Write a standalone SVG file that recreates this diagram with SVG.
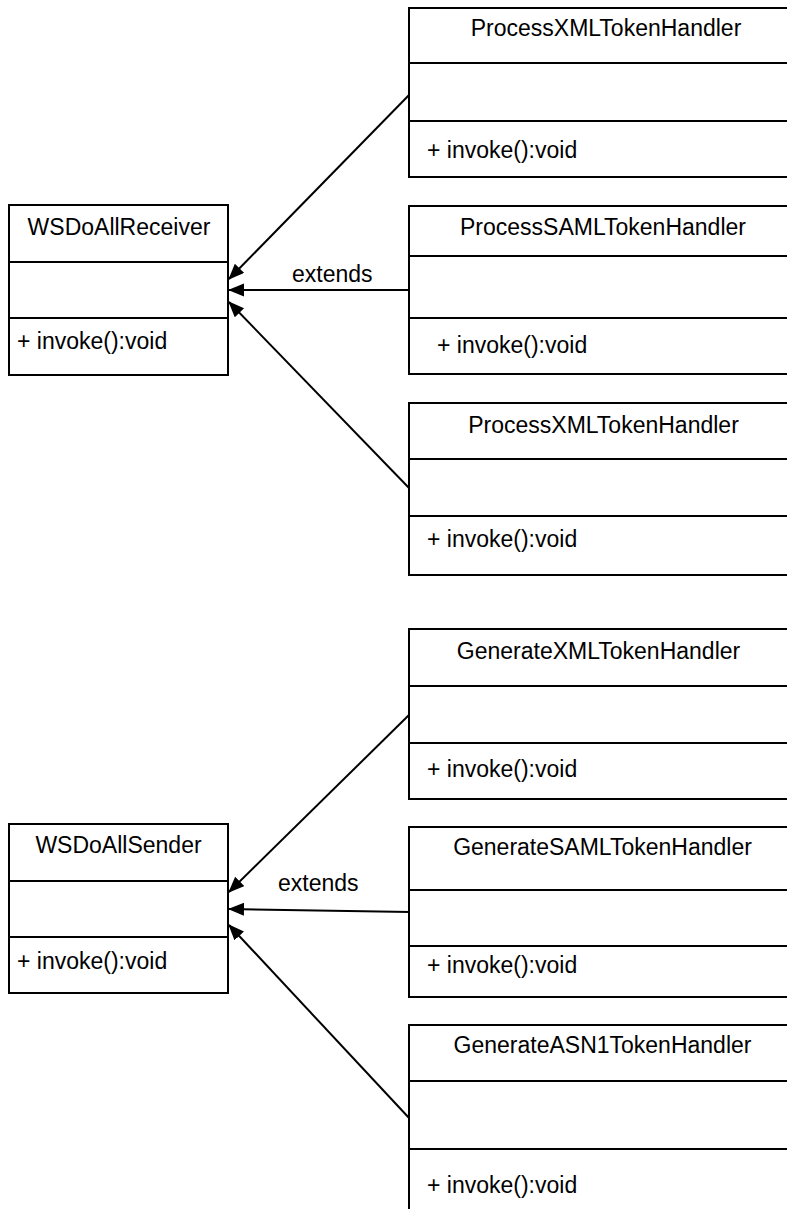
<svg xmlns="http://www.w3.org/2000/svg" width="787" height="1209" viewBox="0 0 787 1209">
<style>
.box{fill:#fff;stroke:#000;stroke-width:2}
.div{stroke:#000;stroke-width:2}
.t{font-family:"Liberation Sans",Arial,sans-serif;font-size:23px;fill:#000}
.c{text-anchor:middle}
.edge{stroke:#000;stroke-width:2;fill:none;marker-end:url(#arrow)}
</style>
<defs>
<marker id="arrow" markerUnits="userSpaceOnUse" markerWidth="18" markerHeight="14" refX="15" refY="6.5" orient="auto">
<path d="M0,0 L16,6.5 L0,13 z" fill="#000"/>
</marker>
</defs>
<g id="connectors">
<line class="edge" x1="410" y1="94" x2="229" y2="279"/>
<line class="edge" x1="410" y1="290" x2="229" y2="290"/>
<line class="edge" x1="410" y1="489" x2="229" y2="302"/>
<line class="edge" x1="410" y1="714" x2="229" y2="892"/>
<line class="edge" x1="410" y1="912" x2="229" y2="909"/>
<line class="edge" x1="410" y1="1119" x2="229" y2="925"/>
<text class="t" x="292" y="282">extends</text>
<text class="t" x="278" y="891">extends</text>
</g>
<g id="WSDoAllReceiver">
<rect class="box" x="9" y="205" width="219" height="170"/>
<line class="div" x1="9" y1="262" x2="228" y2="262"/>
<line class="div" x1="9" y1="318" x2="228" y2="318"/>
<text class="t c" x="119" y="235">WSDoAllReceiver</text>
<text class="t" x="17" y="349">+ invoke():void</text>
</g>
<g id="ProcessXMLTokenHandler1">
<rect class="box" x="409" y="8" width="420" height="169"/>
<line class="div" x1="409" y1="63" x2="829" y2="63"/>
<line class="div" x1="409" y1="121" x2="829" y2="121"/>
<text class="t c" x="606" y="36">ProcessXMLTokenHandler</text>
<text class="t" x="427" y="158">+ invoke():void</text>
</g>
<g id="ProcessSAMLTokenHandler">
<rect class="box" x="409" y="206" width="420" height="168"/>
<line class="div" x1="409" y1="256" x2="829" y2="256"/>
<line class="div" x1="409" y1="318" x2="829" y2="318"/>
<text class="t c" x="603" y="235">ProcessSAMLTokenHandler</text>
<text class="t" x="437" y="353">+ invoke():void</text>
</g>
<g id="ProcessXMLTokenHandler2">
<rect class="box" x="409" y="403" width="420" height="172"/>
<line class="div" x1="409" y1="459" x2="829" y2="459"/>
<line class="div" x1="409" y1="516" x2="829" y2="516"/>
<text class="t c" x="603.5" y="433">ProcessXMLTokenHandler</text>
<text class="t" x="427" y="547">+ invoke():void</text>
</g>
<g id="WSDoAllSender">
<rect class="box" x="9" y="824" width="219" height="169"/>
<line class="div" x1="9" y1="881" x2="228" y2="881"/>
<line class="div" x1="9" y1="937" x2="228" y2="937"/>
<text class="t c" x="118.5" y="853">WSDoAllSender</text>
<text class="t" x="17" y="969">+ invoke():void</text>
</g>
<g id="GenerateXMLTokenHandler">
<rect class="box" x="409" y="629" width="420" height="170"/>
<line class="div" x1="409" y1="686" x2="829" y2="686"/>
<line class="div" x1="409" y1="743" x2="829" y2="743"/>
<text class="t c" x="598.5" y="659">GenerateXMLTokenHandler</text>
<text class="t" x="427" y="777">+ invoke():void</text>
</g>
<g id="GenerateSAMLTokenHandler">
<rect class="box" x="409" y="827" width="420" height="170"/>
<line class="div" x1="409" y1="890" x2="829" y2="890"/>
<line class="div" x1="409" y1="946" x2="829" y2="946"/>
<text class="t c" x="602.5" y="855">GenerateSAMLTokenHandler</text>
<text class="t" x="427" y="973">+ invoke():void</text>
</g>
<g id="GenerateASN1TokenHandler">
<rect class="box" x="409" y="1025" width="420" height="220"/>
<line class="div" x1="409" y1="1081" x2="829" y2="1081"/>
<line class="div" x1="409" y1="1149" x2="829" y2="1149"/>
<text class="t c" x="602.5" y="1053">GenerateASN1TokenHandler</text>
<text class="t" x="427" y="1193">+ invoke():void</text>
</g>
</svg>
